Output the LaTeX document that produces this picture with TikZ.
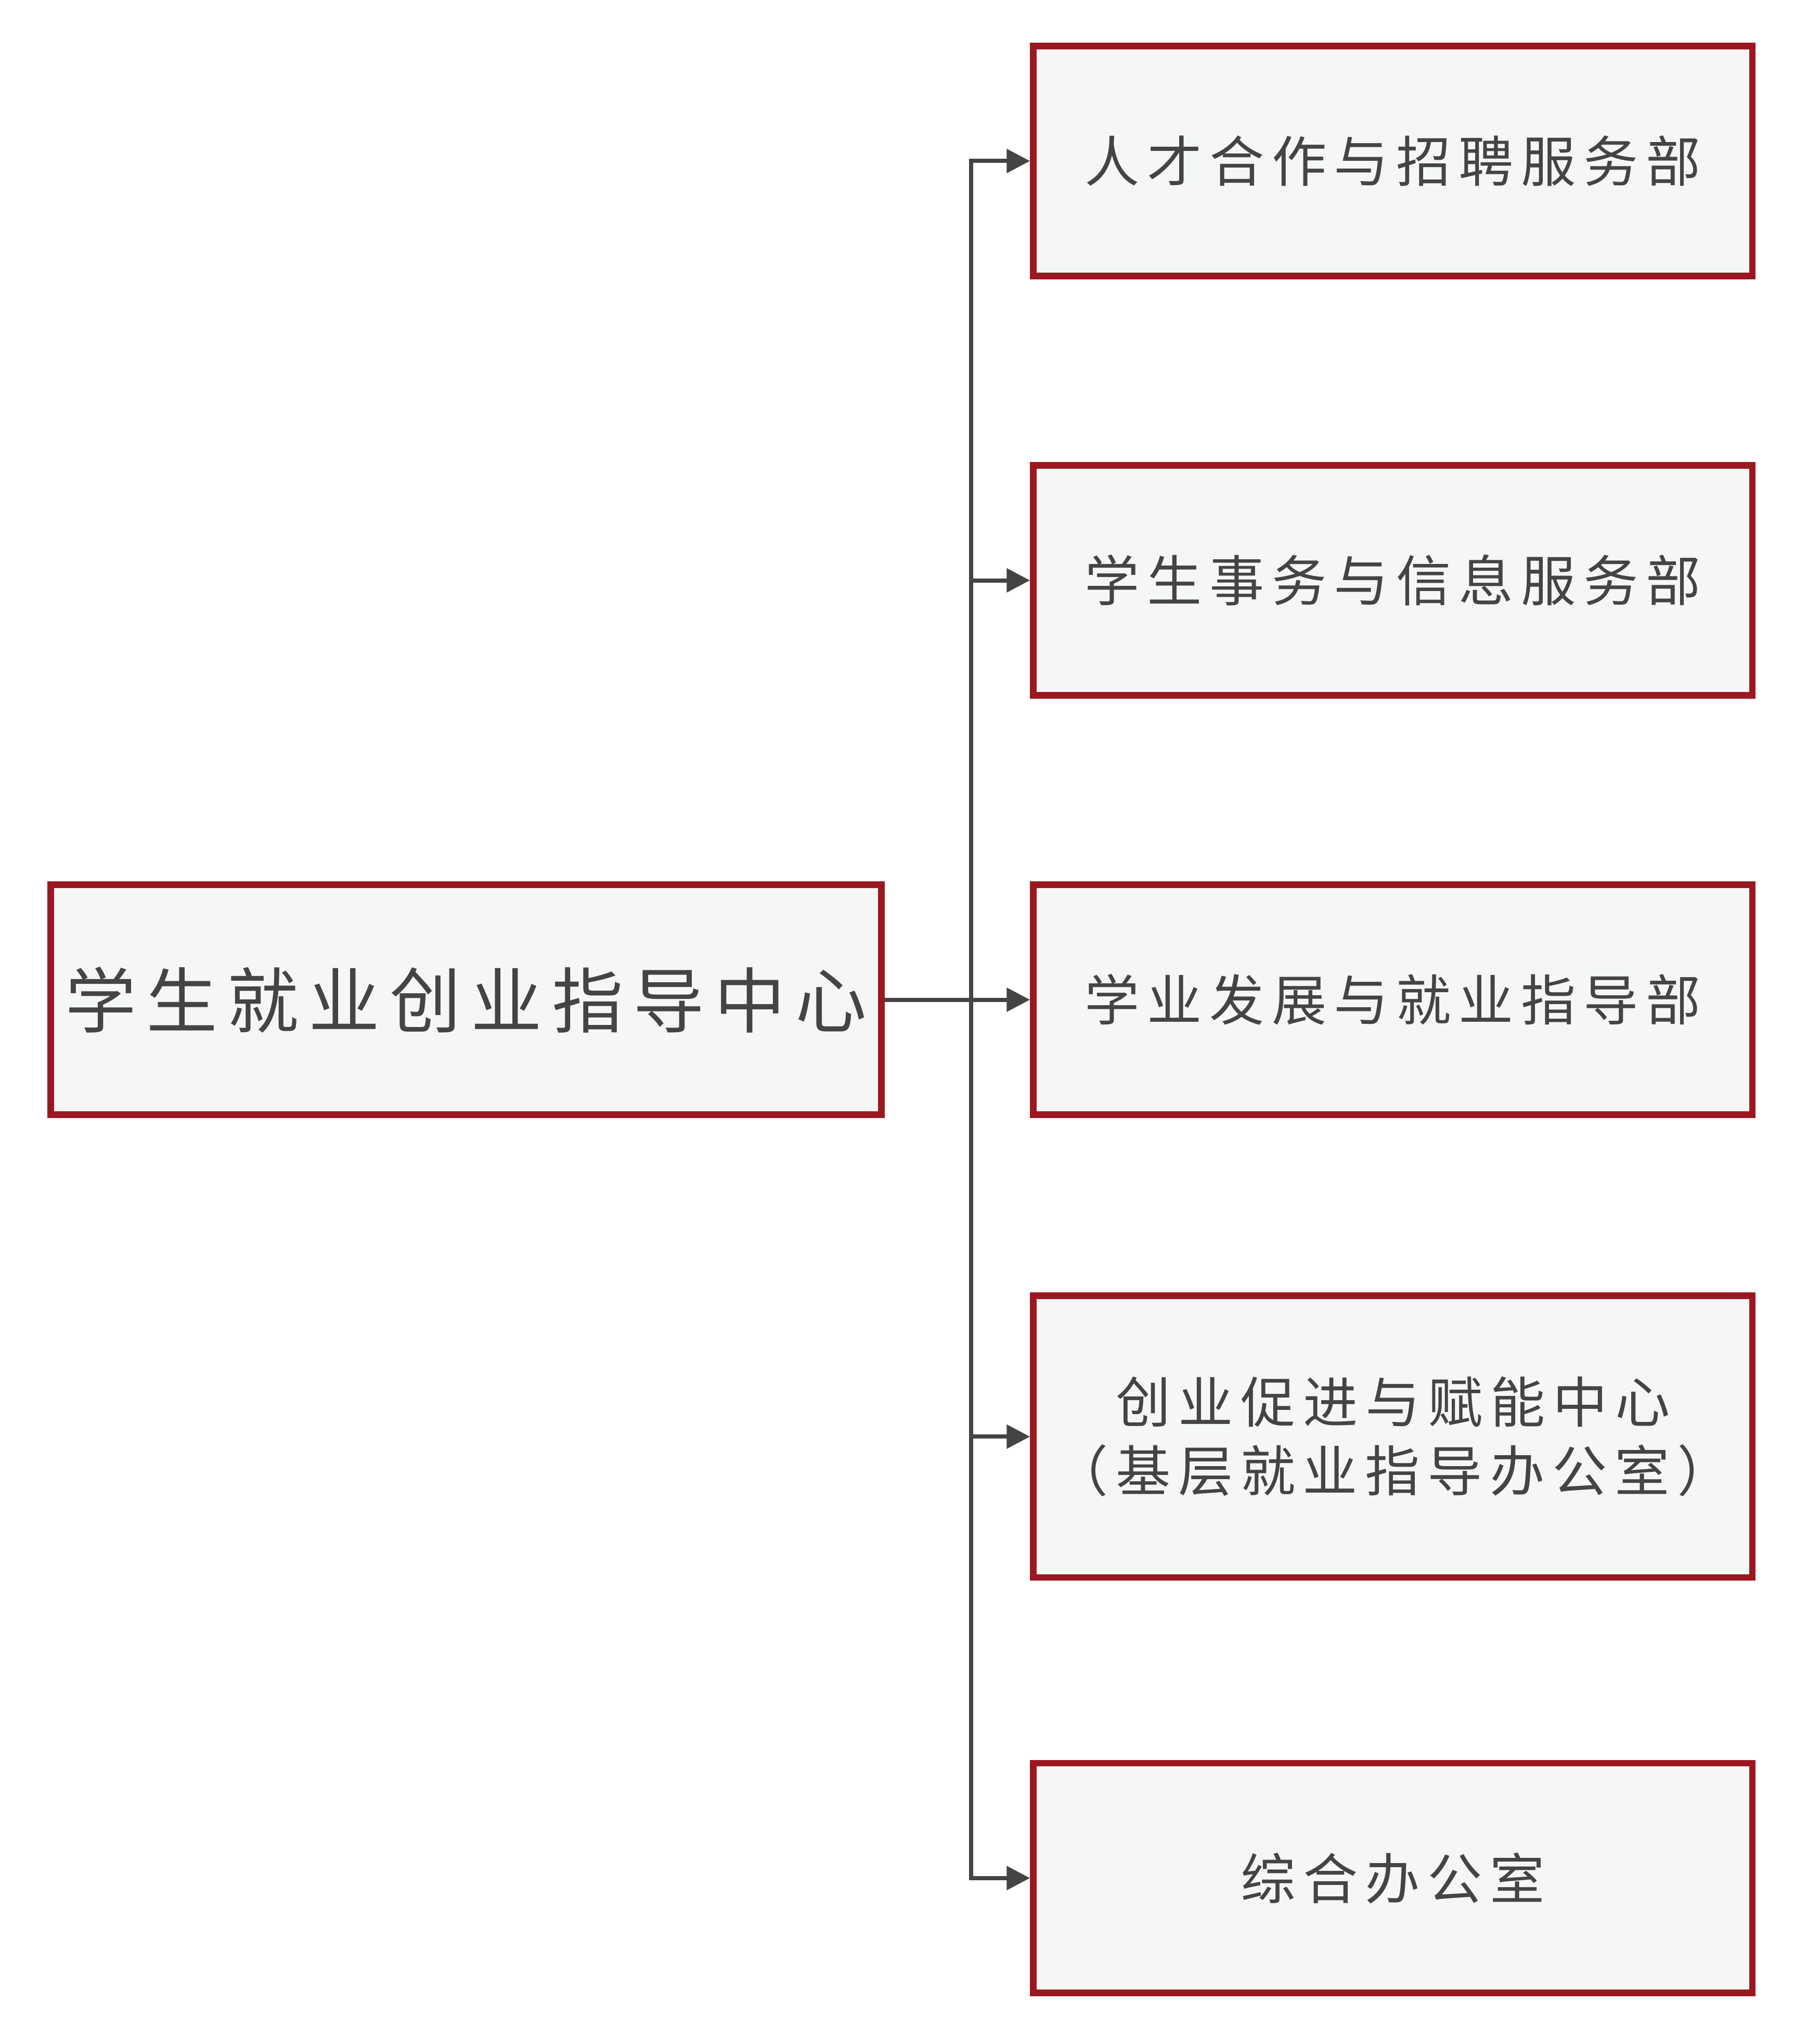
\documentclass[tikz,border=0pt]{standalone}
\usepackage{fontspec}
\newfontfamily\cjk[LetterSpace=14]{Noto Sans CJK SC}
\usetikzlibrary{arrows.meta}
\definecolor{boxred}{HTML}{9B1820}
\definecolor{boxfill}{HTML}{F4F7F6}
\definecolor{linegray}{HTML}{444444}
\tikzset{
  unitbox/.style={draw=boxred,fill=boxfill,line width=2.5mm,minimum width=27.7cm,minimum height=8.85cm,align=center,text=linegray,font=\cjk\fontsize{60}{75}\selectfont},
  arr/.style={linegray,line width=1.6mm,-{Triangle[length=9mm,width=9mm]}}
}
\begin{document}
\begin{tikzpicture}
\useasboundingbox (0,0) rectangle (70.1,-78.1);
\node[unitbox,minimum width=32cm,font=\cjk\fontsize{78}{90}\selectfont] (center) at (17.95,-38.5) {学生就业创业指导中心};
\node[unitbox] (talent) at (53.65,-6.2) {人才合作与招聘服务部};
\node[unitbox] (affairs) at (53.65,-22.35) {学生事务与信息服务部};
\node[unitbox] (guide) at (53.65,-38.5) {学业发展与就业指导部};
\node[unitbox,minimum height=10.85cm] (startup) at (53.65,-55.325) {创业促进与赋能中心\\（基层就业指导办公室）};
\node[unitbox] (office) at (53.65,-72.325) {综合办公室};
\coordinate (trunk) at (37.4,-38.5);
\draw[arr] (center.east) -- (guide.west);
\draw[arr] (trunk) |- (talent.west);
\draw[arr] (trunk) |- (affairs.west);
\draw[arr] (trunk) |- (startup.west);
\draw[arr] (trunk) |- (office.west);
\end{tikzpicture}
\end{document}
